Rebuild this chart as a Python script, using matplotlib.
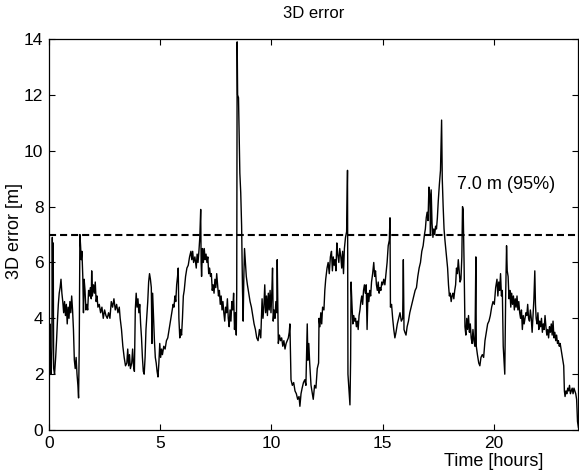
import matplotlib
matplotlib.use('Agg')
import matplotlib.pyplot as plt

plt.rcParams['font.family'] = ['Liberation Sans', 'DejaVu Sans']

# Values (time in hours, 3D error in metres)
hours = [
    0.00, 0.02, 0.04, 0.06, 0.10, 0.13, 0.15, 0.17, 0.19, 0.21, 0.25, 0.30, 0.34, 0.38, 0.42, 0.46,
    0.50, 0.54, 0.58, 0.62, 0.66, 0.70, 0.74, 0.78, 0.82, 0.86, 0.90, 0.94, 0.98, 1.02, 1.06, 1.10,
    1.14, 1.18, 1.22, 1.26, 1.30, 1.33, 1.36, 1.39, 1.42, 1.45, 1.48, 1.52, 1.55, 1.58, 1.62, 1.66,
    1.70, 1.74, 1.78, 1.82, 1.86, 1.90, 1.92, 1.95, 2.00, 2.04, 2.08, 2.12, 2.16, 2.20, 2.26, 2.32,
    2.38, 2.44, 2.50, 2.56, 2.62, 2.68, 2.74, 2.80, 2.86, 2.92, 2.98, 3.04, 3.10, 3.16, 3.20, 3.26,
    3.32, 3.38, 3.44, 3.50, 3.54, 3.58, 3.62, 3.66, 3.72, 3.76, 3.80, 3.84, 3.88, 3.92, 3.96, 4.00,
    4.04, 4.08, 4.12, 4.16, 4.20, 4.24, 4.28, 4.32, 4.36, 4.40, 4.44, 4.48, 4.52, 4.56, 4.60, 4.63,
    4.66, 4.70, 4.74, 4.78, 4.82, 4.86, 4.90, 4.94, 4.98, 5.02, 5.06, 5.10, 5.16, 5.22, 5.28, 5.34,
    5.40, 5.46, 5.52, 5.58, 5.62, 5.66, 5.70, 5.74, 5.78, 5.81, 5.84, 5.88, 5.92, 5.96, 6.00, 6.04,
    6.08, 6.14, 6.20, 6.26, 6.32, 6.38, 6.42, 6.46, 6.50, 6.56, 6.62, 6.66, 6.70, 6.74, 6.78, 6.82,
    6.84, 6.86, 6.90, 6.94, 6.98, 7.02, 7.06, 7.10, 7.14, 7.18, 7.22, 7.26, 7.30, 7.34, 7.38, 7.42,
    7.46, 7.50, 7.54, 7.58, 7.62, 7.66, 7.70, 7.74, 7.78, 7.82, 7.86, 7.90, 7.94, 7.98, 8.02, 8.06,
    8.10, 8.14, 8.18, 8.22, 8.26, 8.30, 8.34, 8.38, 8.42, 8.44, 8.46, 8.48, 8.52, 8.55, 8.58, 8.62,
    8.66, 8.70, 8.73, 8.76, 8.79, 8.83, 8.87, 8.92, 8.98, 9.04, 9.10, 9.16, 9.22, 9.28, 9.34, 9.40,
    9.46, 9.52, 9.58, 9.62, 9.66, 9.70, 9.74, 9.78, 9.82, 9.86, 9.90, 9.94, 9.98, 10.02, 10.05, 10.08,
    10.12, 10.16, 10.20, 10.24, 10.26, 10.31, 10.36, 10.41, 10.46, 10.51, 10.56, 10.61, 10.66, 10.71,
    10.76, 10.80, 10.83, 10.88, 10.94, 11.00, 11.06, 11.12, 11.18, 11.24, 11.28, 11.33, 11.38, 11.44,
    11.50, 11.55, 11.61, 11.64, 11.68, 11.72, 11.78, 11.84, 11.88, 11.94, 12.00, 12.06, 12.12, 12.14,
    12.18, 12.22, 12.26, 12.30, 12.36, 12.40, 12.44, 12.50, 12.55, 12.60, 12.65, 12.70, 12.74, 12.78,
    12.82, 12.86, 12.90, 12.94, 12.98, 13.03, 13.07, 13.12, 13.16, 13.20, 13.24, 13.28, 13.33, 13.38,
    13.42, 13.44, 13.48, 13.53, 13.56, 13.58, 13.62, 13.66, 13.70, 13.74, 13.78, 13.82, 13.86, 13.90,
    13.94, 13.98, 14.02, 14.06, 14.10, 14.14, 14.18, 14.22, 14.26, 14.30, 14.34, 14.38, 14.42, 14.46,
    14.50, 14.55, 14.60, 14.64, 14.68, 14.72, 14.76, 14.80, 14.84, 14.88, 14.92, 14.96, 15.00, 15.05,
    15.10, 15.15, 15.20, 15.25, 15.30, 15.33, 15.35, 15.40, 15.45, 15.50, 15.55, 15.60, 15.66, 15.72,
    15.78, 15.84, 15.90, 15.93, 15.96, 16.00, 16.05, 16.10, 16.16, 16.22, 16.28, 16.34, 16.40, 16.46,
    16.52, 16.58, 16.64, 16.70, 16.76, 16.82, 16.88, 16.92, 16.96, 17.00, 17.04, 17.08, 17.12, 17.15,
    17.18, 17.22, 17.26, 17.30, 17.34, 17.38, 17.42, 17.46, 17.50, 17.55, 17.60, 17.65, 17.68, 17.72,
    17.76, 17.80, 17.86, 17.92, 17.96, 18.00, 18.04, 18.08, 18.12, 18.16, 18.20, 18.24, 18.28, 18.32,
    18.36, 18.40, 18.44, 18.48, 18.52, 18.56, 18.59, 18.62, 18.66, 18.70, 18.74, 18.78, 18.82, 18.86,
    18.90, 18.94, 18.98, 19.02, 19.06, 19.10, 19.15, 19.19, 19.21, 19.26, 19.32, 19.37, 19.42, 19.48,
    19.54, 19.60, 19.66, 19.72, 19.78, 19.84, 19.90, 19.96, 20.02, 20.08, 20.14, 20.18, 20.22, 20.26,
    20.30, 20.34, 20.38, 20.42, 20.46, 20.49, 20.53, 20.57, 20.60, 20.64, 20.68, 20.72, 20.76, 20.80,
    20.84, 20.88, 20.92, 20.96, 21.00, 21.04, 21.08, 21.12, 21.16, 21.20, 21.24, 21.28, 21.32, 21.36,
    21.40, 21.44, 21.48, 21.52, 21.56, 21.60, 21.64, 21.68, 21.72, 21.76, 21.80, 21.84, 21.87, 21.90,
    21.94, 21.98, 22.02, 22.06, 22.10, 22.14, 22.18, 22.22, 22.26, 22.30, 22.34, 22.38, 22.42, 22.46,
    22.50, 22.54, 22.58, 22.62, 22.66, 22.70, 22.74, 22.78, 22.82, 22.86, 22.90, 22.94, 22.98, 23.02,
    23.06, 23.10, 23.14, 23.17, 23.20, 23.24, 23.28, 23.32, 23.36, 23.40, 23.44, 23.48, 23.52, 23.56,
    23.60, 23.64, 23.68, 23.72, 23.76, 23.80,
]
err_3d = [
    3.3, 2.6, 3.8, 2.1, 2.0, 3.0, 6.9, 4.5, 6.7, 2.2, 2.0, 2.6, 3.2, 3.9, 4.5, 4.9,
    5.1, 5.4, 4.9, 4.6, 4.2, 4.6, 4.1, 4.5, 3.8, 4.4, 4.0, 4.6, 4.2, 4.8, 4.3, 3.6,
    2.5, 2.2, 2.6, 2.0, 1.6, 1.15, 3.0, 7.0, 6.6, 6.1, 6.4, 5.5, 4.2, 5.4, 5.0, 4.3,
    4.5, 4.3, 5.0, 4.8, 5.1, 4.7, 5.7, 4.8, 5.2, 4.9, 5.3, 4.6, 4.8, 4.4, 4.5, 4.2,
    4.4, 4.0, 4.3, 4.1, 4.0, 4.2, 4.0, 4.6, 4.4, 4.7, 4.3, 4.5, 4.2, 4.4, 4.0, 3.6,
    3.0, 2.6, 2.3, 2.4, 2.9, 2.3, 2.7, 2.2, 2.4, 2.9, 2.3, 2.1, 4.3, 4.9, 4.4, 4.7,
    4.2, 4.5, 3.8, 3.3, 2.6, 2.1, 2.0, 2.6, 3.6, 4.1, 4.6, 5.3, 5.6, 5.4, 5.1, 3.1,
    4.9, 4.0, 3.2, 2.6, 2.4, 2.1, 1.9, 2.4, 3.1, 2.6, 2.9, 2.7, 3.0, 2.9, 3.2, 3.3,
    3.6, 3.9, 4.2, 4.5, 4.4, 4.8, 4.6, 5.2, 5.5, 5.8, 4.0, 3.3, 3.6, 3.4, 4.0, 4.8,
    5.0, 5.5, 5.8, 5.9, 6.2, 6.4, 6.1, 6.4, 6.0, 6.2, 5.8, 6.3, 6.0, 6.4, 6.9, 7.9,
    6.0, 5.5, 6.5, 6.0, 6.5, 6.1, 6.3, 6.0, 6.2, 5.6, 5.8, 5.5, 5.6, 5.0, 5.2, 4.9,
    5.4, 5.1, 5.6, 5.2, 4.8, 5.0, 4.5, 4.8, 4.3, 4.6, 4.2, 3.9, 4.4, 4.2, 4.7, 4.0,
    3.7, 4.3, 3.9, 4.6, 4.3, 4.9, 3.6, 4.2, 3.4, 5.0, 13.9, 12.0, 11.9, 10.5, 9.2, 8.5,
    7.3, 5.0, 3.9, 5.5, 6.5, 6.0, 5.5, 5.2, 4.9, 4.6, 4.4, 4.1, 3.8, 3.6, 3.3, 3.2,
    3.6, 3.3, 4.7, 4.0, 4.4, 5.2, 4.2, 4.8, 4.1, 4.9, 4.3, 5.0, 4.2, 5.0, 5.8, 3.9,
    4.3, 4.0, 4.6, 4.2, 6.1, 3.1, 3.4, 3.2, 3.3, 3.0, 3.2, 2.9, 3.1, 3.2,
    3.3, 3.5, 3.8, 1.8, 1.6, 1.7, 1.4, 1.3, 1.1, 1.2, 0.85, 1.3, 1.5, 1.7,
    1.8, 1.6, 3.8, 2.5, 3.1, 2.4, 1.6, 1.3, 1.1, 1.6, 1.5, 2.2, 2.4, 4.0,
    3.7, 4.2, 3.8, 4.4, 4.3, 5.0, 5.4, 5.8, 6.0, 5.6, 6.2, 6.4, 5.7, 6.2,
    5.9, 6.1, 5.7, 6.7, 6.3, 6.0, 6.5, 6.2, 5.8, 6.4, 5.6, 6.5, 6.9, 7.1,
    9.3, 2.0, 1.5, 0.9, 2.5, 5.3, 4.5, 3.8, 4.1, 3.9, 4.0, 3.7, 3.9, 3.6,
    4.1, 4.3, 4.6, 4.8, 4.5, 5.0, 5.2, 4.9, 5.2, 3.6, 4.9, 4.6, 5.0, 4.8,
    5.3, 5.6, 6.0, 5.5, 5.7, 5.2, 5.0, 5.3, 4.9, 5.1, 5.0, 5.3, 5.2, 5.4,
    5.2, 5.6, 6.0, 6.6, 6.8, 7.6, 4.4, 4.5, 4.0, 3.6, 3.3, 3.5, 3.8, 4.0,
    4.2, 3.9, 4.0, 6.1, 3.6, 3.5, 3.4, 3.7, 3.9, 4.2, 4.4, 4.6, 4.8, 5.0,
    5.1, 5.5, 5.8, 6.0, 6.4, 6.6, 7.0, 7.2, 7.6, 7.8, 7.5, 8.7, 8.4, 7.0,
    8.6, 7.4, 6.9, 7.2, 7.0, 7.3, 7.2, 7.6, 8.2, 8.8, 9.3, 11.1, 9.0, 8.0,
    7.2, 6.8, 6.3, 5.8, 5.2, 4.8, 4.9, 4.6, 4.8, 4.9, 4.7, 5.0, 5.2, 5.8,
    5.6, 6.1, 5.7, 5.3, 5.4, 6.2, 8.0, 7.9, 6.0, 3.7, 3.4, 4.0, 3.6, 4.1,
    3.5, 3.8, 3.3, 3.1, 3.6, 3.2, 3.0, 6.2, 3.0, 2.7, 2.4, 2.3, 2.6, 2.7,
    2.6, 3.2, 3.5, 3.8, 3.9, 4.1, 4.4, 4.6, 4.5, 5.1, 5.4, 4.8, 5.3, 5.0,
    5.6, 4.8, 5.0, 3.0, 2.4, 2.0, 4.8, 6.6, 5.7, 5.5, 4.7, 5.0, 4.4, 4.9,
    4.5, 4.8, 4.3, 4.7, 4.4, 4.8, 4.3, 4.6, 4.2, 4.0, 4.3, 3.6, 4.1, 3.8,
    4.0, 4.2, 4.1, 4.5, 4.0, 3.9, 4.3, 4.0, 3.5, 4.1, 4.7, 5.7, 4.5, 4.0,
    3.8, 4.2, 3.6, 3.9, 3.7, 4.0, 3.5, 3.8, 3.6, 4.1, 3.7, 3.4, 3.6, 3.3,
    3.7, 3.5, 3.8, 3.4, 3.9, 3.3, 3.5, 3.2, 3.4, 3.1, 3.2, 3.0, 3.1, 2.9,
    2.7, 2.5, 2.3, 1.4, 1.2, 1.4, 1.3, 1.5, 1.4, 1.6, 1.3, 1.4, 1.5, 1.3,
    1.5, 1.4, 1.3, 1.1, 0.3, 0.1,
]

limit_95 = 7.0
limit_label = '7.0 m (95%)'
x_ticks = [0, 5, 10, 15, 20]
y_ticks = [0, 2, 4, 6, 8, 10, 12, 14]

fig = plt.figure(figsize=(5.79, 4.71), dpi=100)
ax = fig.add_axes([0.0846, 0.087, 0.9136, 0.830])

ax.plot(hours, err_3d, color='black', linewidth=1.0)
ax.axhline(limit_95, color='black', linewidth=1.5, linestyle=(0, (3.4, 1.9)))
ax.text(18.34, 8.78, limit_label, ha='left', va='center', fontsize=13)

ax.set_xlim(0, 23.78)
ax.set_ylim(0, 14)
ax.set_xticks(x_ticks)
ax.set_yticks(y_ticks)
ax.tick_params(direction='in', length=4.3, width=0.8, top=True, right=True, labelsize=12.5)
ax.tick_params(axis='x', pad=4)
ax.tick_params(axis='y', pad=4)
for s in ax.spines.values():
    s.set_linewidth(0.9)

ax.set_title('3D error', fontsize=12, pad=15)
ax.set_xlabel('Time [hours]', fontsize=13)
ax.xaxis.set_label_coords(0.841, -0.058)
ax.set_ylabel('3D error [m]', fontsize=13)
ax.yaxis.set_label_coords(-0.05, 0.51)

fig.savefig('out.png', dpi=100)
